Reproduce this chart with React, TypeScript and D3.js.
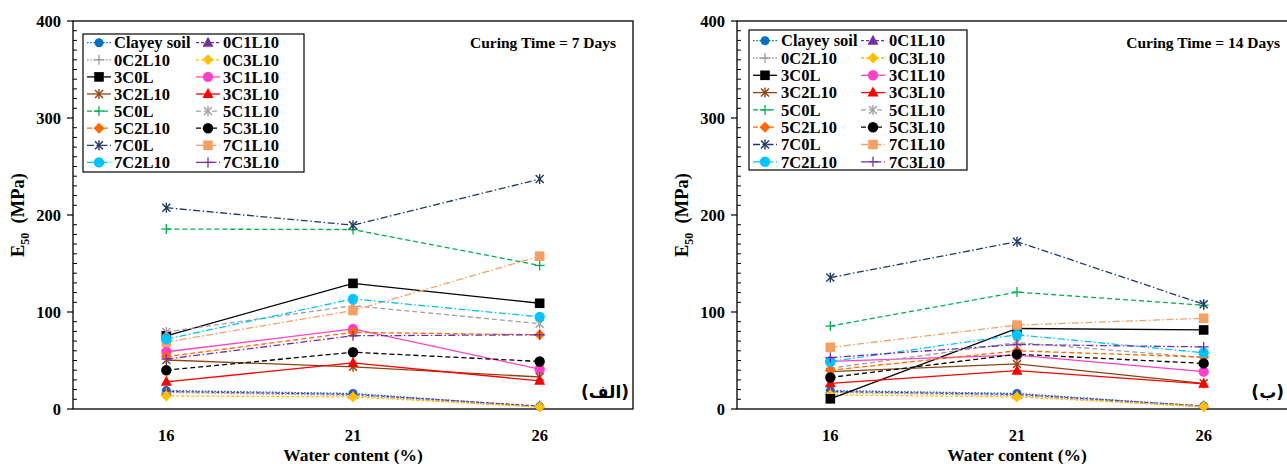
import React from 'react'
import * as d3 from 'd3'

// water content categories
const categories = ['16', '21', '26']

const seriesNames = [
  'Clayey soil', '0C1L10', '0C2L10', '0C3L10',
  '3C0L', '3C1L10', '3C2L10', '3C3L10',
  '5C0L', '5C1L10', '5C2L10', '5C3L10',
  '7C0L', '7C1L10', '7C2L10', '7C3L10',
]

// E50 (MPa), curing time 7 days
const values7 = [
  [19, 16, 2.5], [18, 15, 3], [17, 14, 2], [13.5, 12.5, 2],
  [75.5, 129.5, 109], [59, 82.5, 41], [50.5, 43.5, 33], [28, 47.5, 29],
  [185.5, 185, 148], [79.5, 106.5, 88], [54, 79, 76.5], [40, 58.5, 49],
  [207.5, 189.5, 237], [69, 101.5, 157.5], [72, 113.5, 95], [51.5, 75.5, 76.5],
]

// E50 (MPa), curing time 14 days
const values14 = [
  [19, 16, 3], [18, 15, 3], [17, 14, 2], [14.5, 12.5, 2.5],
  [10.5, 83, 81.5], [49, 55.5, 38.5], [38.5, 46.5, 26.5], [26.5, 39.5, 26],
  [85.5, 120.5, 107], [42, 68.5, 53], [40, 60, 53.5], [32.5, 56.5, 47],
  [135.5, 172.5, 108], [63.5, 86.5, 93.5], [49, 76.5, 58], [53, 66.5, 64],
]

const yTicks = [0, 100, 200, 300, 400]

// styles
const colors = [
  '#0070C0', '#7030A0', '#9A9A9A', '#FFC000',
  '#000000', '#FF40C8', '#8B4513', '#FF0000',
  '#00B050', '#A0A0A0', '#FF6A00', '#000000',
  '#1F3864', '#F4A064', '#00C4FF', '#7030A0',
]
const markers = [
  'circleS', 'triangle', 'plus', 'diamond',
  'square', 'circle', 'asterisk', 'triangle',
  'plus', 'asterisk', 'diamond', 'circle',
  'asterisk', 'square', 'circle', 'plus',
]
const DOT = '1.6,1.6'
const SHORT = '3,2'
const DASH = '5,3'
const DASHDOT = '7,2.5,1.5,2.5'
const dashes = [
  DOT, SHORT, DOT, SHORT,
  'none', 'none', 'none', 'none',
  DASH, DASH, DASH, DASH,
  DASHDOT, DASHDOT, DASHDOT, DASHDOT,
]

const FONT = '"Liberation Serif", "Times New Roman", serif'

function Marker({ type, x, y, color }) {
  if (type === 'circle' || type === 'circleS')
    return <circle cx={x} cy={y} r={type === 'circleS' ? 4.5 : 5.2} fill={color} />
  if (type === 'square')
    return <rect x={x - 4.8} y={y - 4.8} width={9.6} height={9.6} fill={color} />
  if (type === 'triangle')
    return <path d={`M${x},${y - 6} L${x + 5.5},${y + 4} L${x - 5.5},${y + 4} Z`} fill={color} />
  if (type === 'diamond')
    return <path d={`M${x},${y - 5.5} L${x + 5.5},${y} L${x},${y + 5.5} L${x - 5.5},${y} Z`} fill={color} />
  if (type === 'plus')
    return (
      <g stroke={color} strokeWidth={1.3}>
        <line x1={x - 5} x2={x + 5} y1={y} y2={y} />
        <line x1={x} x2={x} y1={y - 5} y2={y + 5} />
      </g>
    )
  // asterisk
  return (
    <g stroke={color} strokeWidth={1.4}>
      <line x1={x - 4} x2={x + 4} y1={y - 4} y2={y + 4} />
      <line x1={x - 4} x2={x + 4} y1={y + 4} y2={y - 4} />
      <line x1={x} x2={x} y1={y - 5} y2={y + 5} />
    </g>
  )
}

function Panel({ values, x0, x1, legend, title, titleEnd, arabic, arabicEnd }) {
  const top = 21
  const bottom = 409
  const x = d3.scaleBand().domain(categories).range([x0, x1])
  const y = d3.scaleLinear().domain([0, 400]).range([bottom, top])
  const line = d3
    .line()
    .x((d, i) => x(categories[i]) + x.bandwidth() / 2)
    .y((d) => y(d))
  const minor = d3.range(0, 401, 10).filter((v) => v % 100 !== 0)
  const mid = x(categories[1]) + x.bandwidth() / 2

  return (
    <g>
      <rect x={x0} y={top} width={x1 - x0} height={bottom - top} fill="none" stroke="#000" strokeWidth={1.3} />
      {minor.map((v) => (
        <line key={v} x1={x0} x2={x0 + 4} y1={y(v)} y2={y(v)} stroke="#000" strokeWidth={1} />
      ))}
      {yTicks.map((v) => (
        <g key={v}>
          <line x1={x0 - 6} x2={x0} y1={y(v)} y2={y(v)} stroke="#000" strokeWidth={1.2} />
          <text x={x0 - 12} y={y(v)} dy="0.35em" textAnchor="end" fontFamily={FONT} fontWeight="bold" fontSize={16.5}>
            {v}
          </text>
        </g>
      ))}
      {categories.map((c) => (
        <text key={c} x={x(c) + x.bandwidth() / 2} y={441} textAnchor="middle" fontFamily={FONT} fontWeight="bold" fontSize={16.5}>
          {c}
        </text>
      ))}
      <text x={mid} y={461} textAnchor="middle" fontFamily={FONT} fontWeight="bold" fontSize={17.5}>
        Water content (%)
      </text>
      <text transform={`translate(${x0 - 55},${y(200)}) rotate(-90)`} textAnchor="middle" dy="0.35em" fontFamily={FONT} fontWeight="bold" fontSize={18.5}>
        E<tspan fontSize={12} dy="5">50</tspan><tspan dy="-5">{'\u00a0 (MPa)'}</tspan>
      </text>

      {values.map((vals, s) => (
        <g key={s}>
          <path d={line(vals)} fill="none" stroke={colors[s]} strokeWidth={1.3} strokeDasharray={dashes[s]} />
          {vals.map((v, i) => (
            <Marker key={i} type={markers[s]} x={x(categories[i]) + x.bandwidth() / 2} y={y(v)} color={colors[s]} />
          ))}
        </g>
      ))}

      <text x={titleEnd} y={43} dy="0.35em" textAnchor="end" fontFamily={FONT} fontWeight="bold" fontSize={15.5}>
        {title}
      </text>
      <text x={arabicEnd} y={392} dy="0.35em" textAnchor="end" fontFamily='"DejaVu Sans", sans-serif' fontWeight="bold" fontSize={17}>
        {arabic}
      </text>

      <rect x={legend.x} y={legend.y} width={legend.w} height={legend.h} fill="#fff" stroke="#000" strokeWidth={1.2} />
      {seriesNames.map((name, s) => {
        const col = s % 2
        const row = Math.floor(s / 2)
        const cy = legend.row0 + row * legend.step
        const sx = col === 0 ? legend.sym1 : legend.sym2
        const tx = col === 0 ? legend.text1 : legend.text2
        return (
          <g key={name}>
            <line x1={sx - 12} x2={sx + 12} y1={cy} y2={cy} stroke={colors[s]} strokeWidth={1.3} strokeDasharray={dashes[s]} />
            <Marker type={markers[s]} x={sx} y={cy} color={colors[s]} />
            <text x={tx} y={cy} dy="0.35em" fontFamily={FONT} fontWeight="bold" fontSize={16.5}>
              {name}
            </text>
          </g>
        )
      })}
    </g>
  )
}

export default function App() {
  return (
    <svg width={1287} height={464} style={{ position: 'absolute', left: 0, top: 0, background: '#fff' }}>
      <rect width={1287} height={464} fill="#fff" />
      <Panel
        values={values7}
        x0={73}
        x1={633}
        legend={{ x: 83, y: 34, w: 221, h: 138, row0: 42.7, step: 17.1, sym1: 99, text1: 114, sym2: 208, text2: 223 }}
        title="Curing Time = 7 Days"
        titleEnd={616}
        arabic="(الف)"
        arabicEnd={629}
      />
      <Panel
        values={values14}
        x0={737}
        x1={1297}
        legend={{ x: 749, y: 30, w: 218, h: 140, row0: 40.7, step: 17.3, sym1: 765, text1: 781, sym2: 873, text2: 889 }}
        title="Curing Time = 14 Days"
        titleEnd={1280}
        arabic="(ب)"
        arabicEnd={1284}
      />
    </svg>
  )
}
